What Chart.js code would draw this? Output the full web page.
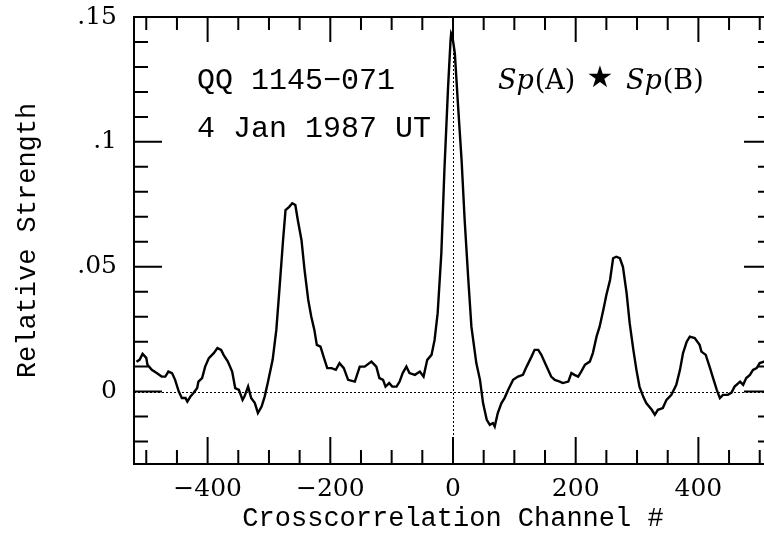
<!DOCTYPE html>
<html><head><meta charset="utf-8">
<script src="https://cdn.jsdelivr.net/npm/chart.js@4.4.1/dist/chart.umd.min.js"></script>
<style>
html,body{margin:0;padding:0;background:#fff;overflow:hidden;width:764px;height:535px}
#wrap{width:780px;height:535px}
</style></head>
<body><div id="wrap"><canvas id="c" width="780" height="535"></canvas></div>
<script>
// Crosscorrelation channel (x) and relative strength (y)
const channel = [-516,-511,-506,-500,-498,-491,-483,-475,-469,-464,-458,-453,-447,-442,-436,-433,-428,-423,-417,-415,-409,-404,-398,-390,-384,-378,-374,-367,-360,-355,-349,-343,-340,-334,-329,-323,-318,-312,-307,-302,-294,-288,-283,-277,-273,-267,-262,-257,-253,-247,-242,-236,-231,-226,-222,-216,-211,-205,-198,-191,-185,-178,-171,-160,-152,-144,-133,-125,-120,-114,-110,-104,-99,-92,-87,-82,-76,-71,-62,-54,-48,-42,-35,-30,-25,-19,-14,-8,-4,-3,-1,3,8,14,19,25,30,38,44,49,55,60,65,68,73,79,84,90,98,106,114,120,128,133,139,144,150,155,160,166,174,179,188,193,198,204,209,215,223,228,234,239,245,250,256,261,266,272,277,283,288,294,299,304,310,315,324,329,334,342,348,356,364,370,375,381,386,394,402,405,412,419,424,430,435,440,448,454,459,468,473,478,484,489,495,500,507,516];
const strength = [0.0119,0.0127,0.0151,0.0135,0.0107,0.0087,0.0074,0.0060,0.0060,0.0080,0.0074,0.0047,0.0000,-0.0026,-0.0026,-0.0040,-0.0020,-0.0006,0.0014,0.0040,0.0054,0.0100,0.0134,0.0154,0.0174,0.0167,0.0147,0.0120,0.0080,0.0014,0.0007,-0.0033,-0.0020,0.0020,-0.0026,-0.0046,-0.0086,-0.0060,-0.0020,0.0034,0.0127,0.0247,0.0407,0.0607,0.0727,0.0740,0.0754,0.0747,0.0687,0.0607,0.0487,0.0367,0.0300,0.0247,0.0187,0.0180,0.0140,0.0094,0.0094,0.0087,0.0114,0.0094,0.0047,0.0040,0.0100,0.0100,0.0120,0.0100,0.0054,0.0047,0.0020,0.0034,0.0020,0.0020,0.0040,0.0074,0.0100,0.0074,0.0067,0.0080,0.0060,0.0127,0.0147,0.0207,0.0314,0.0554,0.0887,0.1220,0.1407,0.1434,0.1423,0.1354,0.1154,0.0927,0.0687,0.0447,0.0260,0.0114,0.0047,-0.0046,-0.0113,-0.0133,-0.0126,-0.0140,-0.0086,-0.0046,-0.0026,0.0007,0.0047,0.0060,0.0067,0.0100,0.0140,0.0167,0.0167,0.0147,0.0114,0.0087,0.0060,0.0047,0.0040,0.0034,0.0040,0.0074,0.0067,0.0060,0.0080,0.0107,0.0120,0.0154,0.0220,0.0260,0.0327,0.0387,0.0447,0.0534,0.0540,0.0534,0.0500,0.0394,0.0274,0.0167,0.0087,0.0020,-0.0020,-0.0046,-0.0073,-0.0093,-0.0073,-0.0066,-0.0033,-0.0013,0.0027,0.0087,0.0154,0.0200,0.0220,0.0214,0.0187,0.0160,0.0147,0.0094,0.0054,0.0007,-0.0026,-0.0013,-0.0013,-0.0004,0.0020,0.0040,0.0027,0.0054,0.0067,0.0087,0.0094,0.0114,0.0120,0.0135];

const xMajorTicks = [-400,-200,0,200,400];
const xTickLabels = ['\u2212400','\u2212200','0','200','400'];
const yMajorTicks = [0,0.05,0.1,0.15];
const yTickLabels = ['0','.05','.1','.15'];
const xRange = [-520,520];
const yRange = [-0.029,0.15];
const xMinorStep = 50, yMinorStep = 0.01;

const points = channel.map((c,i)=>({x:c,y:strength[i]}));

const framePlugin = {
  id:'frame',
  beforeDatasetsDraw(chart){
    const {ctx, chartArea:a, scales:{x,y}} = chart;
    ctx.save();
    ctx.strokeStyle='#000'; ctx.lineWidth=1; ctx.setLineDash([2,2]);
    const y0 = Math.round(y.getPixelForValue(0))+0.5;
    const x0 = Math.round(x.getPixelForValue(0))+0.5;
    ctx.beginPath(); ctx.moveTo(a.left,y0); ctx.lineTo(a.right,y0); ctx.stroke();
    ctx.beginPath(); ctx.moveTo(x0,a.top); ctx.lineTo(x0,a.bottom); ctx.stroke();
    ctx.restore();
  },
  afterDatasetsDraw(chart){
    const {ctx, chartArea:a, scales:{x,y}} = chart;
    ctx.save();
    ctx.strokeStyle='#000'; ctx.lineWidth=2;
    ctx.strokeRect(a.left,a.top,a.right-a.left,a.bottom-a.top);
    ctx.beginPath();
    for(let v=-500; v<=500; v+=xMinorStep){
      const px = x.getPixelForValue(v);
      const major = xMajorTicks.includes(v);
      ctx.moveTo(px,a.bottom); ctx.lineTo(px,a.bottom-(major?27:14));
      ctx.moveTo(px,a.top); ctx.lineTo(px,a.top+(major?25:13));
    }
    for(let k=-2; k<=15; k++){
      const v = k*yMinorStep;
      const py = y.getPixelForValue(v);
      const major = (k%5===0);
      ctx.moveTo(a.left,py); ctx.lineTo(a.left+(major?28:14),py);
      ctx.moveTo(a.right,py); ctx.lineTo(a.right-(major?28:14),py);
    }
    ctx.stroke();
    ctx.restore();
  },
  afterDraw(chart){
    const {ctx} = chart;
    ctx.save();
    ctx.fillStyle='#000'; ctx.textBaseline='alphabetic'; ctx.textAlign='left';
    ctx.font='30px "Liberation Mono"';
    ctx.fillText('QQ 1145\u2212071',197,89);
    ctx.fillText('4 Jan 1987 UT',197,137);
    let cx = 498;
    const it='italic 27px "DejaVu Serif"', up='27px "DejaVu Serif"';
    ctx.font=it; ctx.fillText('Sp',cx,89); cx+=ctx.measureText('Sp').width+1;
    ctx.font=up; ctx.fillText('(A)',cx,89);
    ctx.font='30px "DejaVu Sans"'; ctx.textAlign='center'; ctx.fillText('\u2605',600,87);
    ctx.textAlign='left';
    cx = 626;
    ctx.font=it; ctx.fillText('Sp',cx,89); cx+=ctx.measureText('Sp').width+1;
    ctx.font=up; ctx.fillText('(B)',cx,89);
    ctx.restore();
  }
};

new Chart(document.getElementById('c'),{
  type:'line',
  data:{datasets:[{data:points,borderColor:'#000',borderWidth:2.4,pointRadius:0,tension:0,fill:false}]},
  options:{
    responsive:false, animation:false, devicePixelRatio:1,
    layout:{padding:{top:17,right:8,left:0,bottom:0}},
    plugins:{legend:{display:false},tooltip:{enabled:false}},
    scales:{
      x:{type:'linear',min:xRange[0],max:xRange[1],
        afterBuildTicks:s=>{s.ticks=xMajorTicks.map(v=>({value:v}));},
        afterFit:s=>{s.height=71; s.paddingLeft=0; s.paddingRight=0;},
        ticks:{callback:v=>xTickLabels[xMajorTicks.indexOf(v)],font:{family:'DejaVu Serif',size:25},color:'#000',padding:10,maxRotation:0,autoSkip:false},
        grid:{display:false,drawTicks:false},border:{display:false},
        title:{display:true,text:'Crosscorrelation Channel #',font:{family:'Liberation Mono',size:27},color:'#000',padding:{top:0,bottom:0}}
      },
      y:{type:'linear',min:yRange[0],max:yRange[1],
        afterBuildTicks:s=>{s.ticks=yMajorTicks.map(v=>({value:v}));},
        afterFit:s=>{s.width=134; s.paddingTop=0; s.paddingBottom=0;},
        ticks:{callback:v=>yTickLabels[yMajorTicks.indexOf(v)],font:{family:'DejaVu Serif',size:25},color:'#000',padding:17,autoSkip:false},
        grid:{display:false,drawTicks:false},border:{display:false},
        title:{display:true,text:'Relative Strength',font:{family:'Liberation Mono',size:27},color:'#000',padding:{top:12,bottom:0}}
      }
    }
  },
  plugins:[framePlugin]
});
</script>
</body></html>
